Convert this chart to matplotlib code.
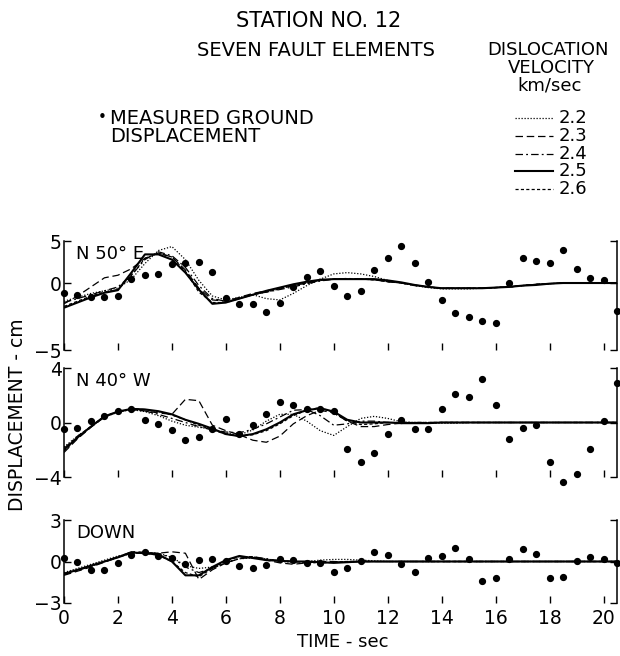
import matplotlib
matplotlib.use("Agg")
import matplotlib.pyplot as plt
from matplotlib.lines import Line2D

plt.rcParams['font.family'] = ['DejaVu Sans']

# ---------------- data ----------------
time_s = [0.0, 0.5, 1.0, 1.5, 2.0, 2.5, 3.0, 3.5, 4.0, 4.5,
          5.0, 5.5, 6.0, 6.5, 7.0, 7.5, 8.0, 8.5, 9.0, 9.5,
          10.0, 10.5, 11.0, 11.5, 12.0, 12.5, 13.0, 13.5, 14.0, 14.5,
          15.0, 15.5, 16.0, 16.5, 17.0, 17.5, 18.0, 18.5, 19.0, 19.5,
          20.0, 20.5]

velocities = ['2.2', '2.3', '2.4', '2.5', '2.6']

# N 50 E component
n50e_measured = [-0.74, -0.92, -1.05, -1.1, -1.0, 0.3, 0.62, 0.7, 1.5, 1.56,
                 1.64, 0.82, -1.15, -1.6, -1.6, -2.25, -1.5, -0.3, 0.44, 0.9,
                 -0.23, -1.0, -0.59, 1.0, 1.9, 2.85, 1.51, 0.05, -1.31, -2.28,
                 -2.64, -2.95, -3.08, 0.0, 1.9, 1.69, 1.56, 2.54, 1.05, 0.36,
                 0.23, -2.13]
n50e_v22 = [-1.4, -1.1, -0.8, -0.6, -0.4, 0.3, 1.5, 2.5, 2.8, 1.8,
            0.2, -1.0, -1.3, -1.1, -0.9, -1.2, -1.3, -0.8, -0.2, 0.3,
            0.7, 0.8, 0.7, 0.5, 0.2, 0.0, -0.2, -0.35, -0.45, -0.45,
            -0.45, -0.4, -0.35, -0.3, -0.2, -0.1, -0.05, 0.0, 0.0, 0.0,
            0.0, 0.0]
n50e_v23 = [-1.6, -1.0, -0.3, 0.4, 0.6, 1.1, 1.9, 2.3, 2.0, 1.0,
            -0.4, -1.3, -1.4, -1.1, -0.8, -0.6, -0.4, -0.2, 0.0, 0.2,
            0.3, 0.3, 0.3, 0.25, 0.1, 0.0, -0.2, -0.3, -0.4, -0.4,
            -0.4, -0.4, -0.35, -0.3, -0.2, -0.1, -0.05, 0.0, 0.0, 0.0,
            0.0, 0.0]
n50e_v24 = [-1.5, -1.2, -0.9, -0.6, -0.3, 0.6, 1.8, 2.4, 2.1, 1.2,
            -0.2, -1.2, -1.4, -1.2, -0.9, -0.7, -0.5, -0.3, -0.05, 0.15,
            0.3, 0.35, 0.3, 0.25, 0.1, 0.0, -0.15, -0.3, -0.4, -0.4,
            -0.4, -0.4, -0.35, -0.3, -0.2, -0.1, -0.05, 0.0, 0.0, 0.0,
            0.0, 0.0]
n50e_v25 = [-1.9, -1.5, -1.1, -0.75, -0.55, 0.8, 2.2, 2.2, 1.8, 0.8,
            -0.5, -1.6, -1.5, -1.2, -0.9, -0.6, -0.35, -0.1, 0.1, 0.25,
            0.3, 0.3, 0.3, 0.3, 0.2, 0.05, -0.15, -0.3, -0.4, -0.4,
            -0.4, -0.4, -0.35, -0.3, -0.2, -0.15, -0.05, 0.0, 0.0, 0.0,
            0.0, 0.0]
n50e_v26 = [-1.8, -1.4, -1.0, -0.7, -0.5, 0.6, 1.9, 2.3, 2.0, 0.9,
            -0.7, -1.5, -1.5, -1.2, -0.9, -0.7, -0.45, -0.2, 0.0, 0.2,
            0.3, 0.3, 0.3, 0.25, 0.1, 0.0, -0.15, -0.3, -0.4, -0.4,
            -0.4, -0.4, -0.35, -0.3, -0.2, -0.1, -0.05, 0.0, 0.0, 0.0,
            0.0, 0.0]

# N 40 W component
n40w_measured = [-0.47, -0.39, 0.1, 0.46, 0.83, 1.0, 0.17, -0.1, -0.56, -1.32,
                 -1.08, -0.5, 0.29, -0.81, -0.22, 0.59, 1.49, 1.32, 0.96, 1.0,
                 0.88, -1.91, -2.89, -2.24, -0.81, 0.15, -0.51, -0.46, 0.96, 2.06,
                 1.86, 3.21, 1.32, -1.18, -0.44, -0.2, -2.92, -4.4, -3.75, -1.91,
                 0.1, 2.92]
n40w_v22 = [-1.8, -1.0, -0.3, 0.4, 0.75, 0.95, 0.8, 0.5, 0.1, -0.2,
            -0.35, -0.5, -0.8, -0.9, -0.55, 0.1, 0.6, 0.6, 0.1, -0.6,
            -0.95, -0.3, 0.3, 0.45, 0.3, 0.05, 0.0, -0.05, -0.05, -0.05,
            0.0, 0.0, 0.0, 0.0, 0.0, 0.0, 0.0, 0.0, 0.0, 0.0,
            0.0, 0.0]
n40w_v23 = [-2.2, -1.2, -0.35, 0.4, 0.8, 0.95, 0.85, 0.7, 0.6, 1.7,
            1.6, -0.2, -0.6, -0.9, -1.3, -1.45, -1.0, -0.1, 0.5, 0.9,
            0.7, 0.1, -0.3, -0.3, -0.15, -0.05, 0.0, 0.0, 0.0, 0.0,
            0.0, 0.0, 0.0, 0.0, 0.0, 0.0, 0.0, 0.0, 0.0, 0.0,
            0.0, 0.0]
n40w_v24 = [-1.9, -1.0, -0.3, 0.45, 0.8, 0.95, 0.85, 0.6, 0.3, 0.0,
            -0.3, -0.55, -0.7, -0.75, -0.5, -0.1, 0.4, 0.9, 0.95, 0.5,
            -0.2, -0.1, 0.1, 0.1, 0.0, 0.0, 0.0, 0.0, 0.0, 0.0,
            0.0, 0.0, 0.0, 0.0, 0.0, 0.0, 0.0, 0.0, 0.0, 0.0,
            0.0, 0.0]
n40w_v25 = [-2.0, -1.1, -0.3, 0.45, 0.8, 1.0, 0.96, 0.83, 0.6, 0.2,
            -0.1, -0.45, -0.85, -1.0, -0.85, -0.5, 0.0, 0.6, 0.9, 1.05,
            0.8, 0.2, 0.0, 0.0, 0.0, -0.05, -0.05, -0.05, 0.0, 0.0,
            0.0, 0.0, 0.0, 0.0, 0.0, 0.0, 0.0, 0.0, 0.0, 0.0,
            0.0, 0.0]
n40w_v26 = [-2.1, -1.15, -0.3, 0.45, 0.8, 1.0, 0.95, 0.8, 0.55, 0.2,
            -0.2, -0.55, -0.85, -1.0, -0.9, -0.6, -0.1, 0.5, 0.9, 1.1,
            0.7, 0.1, -0.15, -0.1, 0.0, 0.0, 0.0, 0.0, 0.0, 0.0,
            0.0, 0.0, 0.0, 0.0, 0.0, 0.0, 0.0, 0.0, 0.0, 0.0,
            0.0, 0.0]

# DOWN component
down_measured = [0.23, 0.0, -0.62, -0.62, -0.13, 0.47, 0.71, 0.4, 0.23, -0.18,
                 0.1, 0.18, 0.06, -0.33, -0.5, -0.25, 0.18, 0.1, -0.1, -0.13,
                 -0.74, -0.5, 0.06, 0.66, 0.47, -0.2, -0.76, 0.28, 0.42, 0.95,
                 0.2, -1.39, -1.17, 0.18, 0.9, 0.54, -1.22, -1.1, 0.06, 0.3,
                 0.18, -0.08]
down_v22 = [-0.8, -0.5, -0.2, 0.1, 0.4, 0.6, 0.65, 0.6, 0.3, -0.3,
            -0.5, -0.4, -0.1, 0.2, 0.25, 0.2, 0.0, -0.05, 0.0, 0.1,
            0.15, 0.15, 0.1, 0.05, 0.0, 0.0, 0.0, 0.0, 0.0, 0.0,
            0.0, 0.0, 0.0, 0.0, 0.0, 0.0, 0.0, 0.0, 0.0, 0.0,
            0.0, 0.0]
down_v23 = [-1.0, -0.7, -0.4, -0.05, 0.3, 0.7, 0.65, 0.6, 0.7, 0.6,
            -1.3, -0.6, -0.1, 0.2, 0.3, 0.1, -0.1, -0.2, -0.1, 0.0,
            0.0, -0.05, 0.0, 0.0, 0.0, 0.0, 0.0, 0.0, 0.0, 0.0,
            0.0, 0.0, 0.0, 0.0, 0.0, 0.0, 0.0, 0.0, 0.0, 0.0,
            0.0, 0.0]
down_v24 = [-0.95, -0.65, -0.35, 0.0, 0.35, 0.7, 0.65, 0.55, 0.3, -0.4,
            -0.8, -0.5, -0.1, 0.25, 0.35, 0.2, 0.05, 0.0, -0.05, -0.1,
            -0.05, 0.0, 0.0, 0.0, 0.0, 0.0, 0.0, 0.0, 0.0, 0.0,
            0.0, 0.0, 0.0, 0.0, 0.0, 0.0, 0.0, 0.0, 0.0, 0.0,
            0.0, 0.0]
down_v25 = [-0.9, -0.6, -0.3, 0.0, 0.3, 0.65, 0.6, 0.5, 0.0, -1.0,
            -1.0, -0.4, 0.1, 0.4, 0.25, 0.1, 0.05, 0.0, 0.0, -0.05,
            -0.1, -0.05, 0.0, 0.0, 0.0, 0.0, 0.0, 0.0, 0.0, 0.0,
            0.0, 0.0, 0.0, 0.0, 0.0, 0.0, 0.0, 0.0, 0.0, 0.0,
            0.0, 0.0]
down_v26 = [-0.85, -0.6, -0.3, 0.0, 0.3, 0.6, 0.6, 0.45, 0.0, -0.8,
            -1.1, -0.5, 0.05, 0.35, 0.35, 0.15, 0.05, 0.0, -0.05, -0.1,
            -0.05, 0.0, 0.0, 0.0, 0.0, 0.0, 0.0, 0.0, 0.0, 0.0,
            0.0, 0.0, 0.0, 0.0, 0.0, 0.0, 0.0, 0.0, 0.0, 0.0,
            0.0, 0.0]

panel_names = ['N 50\u00b0 E', 'N 40\u00b0 W', 'DOWN']
x_ticks = [0, 2, 4, 6, 8, 10, 12, 14, 16, 18, 20]
x_ticklabels = ['0', '2', '4', '6', '8', '10', '12', '14', '16', '18', '20']
y_ticklabels = [['\u22125', '0', '5'], ['\u22124', '0', '4'], ['\u22123', '0', '3']]

# ---------------- styles ----------------
W, H = 620, 656
def fx(px):
    return px / W
def fy(py):
    return 1 - py / H

styles = {
    '2.2': dict(ls=(0, (1, 1.4)), lw=0.9),
    '2.3': dict(ls=(0, (6, 3)), lw=0.9),
    '2.4': dict(ls=(0, (6, 2.5, 1.5, 2.5)), lw=0.9),
    '2.5': dict(ls='-', lw=1.5),
    '2.6': dict(ls=(0, (2.5, 1.8)), lw=0.9),
}

fig = plt.figure(figsize=(6.2, 6.56), dpi=100)

panels = [
    dict(top=241, bot=350, ylim=(-5.15, 3.23),
         meas=n50e_measured, curves=[n50e_v22, n50e_v23, n50e_v24, n50e_v25, n50e_v26]),
    dict(top=368, bot=477, ylim=(-4.0, 4.0),
         meas=n40w_measured, curves=[n40w_v22, n40w_v23, n40w_v24, n40w_v25, n40w_v26]),
    dict(top=520, bot=603, ylim=(-3.0, 3.0),
         meas=down_measured, curves=[down_v22, down_v23, down_v24, down_v25, down_v26]),
]

left_px, right_px = 64, 617
for i, p in enumerate(panels):
    ax = fig.add_axes([fx(left_px), fy(p['bot']), (right_px - left_px) / W,
                       (p['bot'] - p['top']) / H])
    for v, vals in zip(velocities, p['curves']):
        ax.plot(time_s, vals, color='black', solid_capstyle='butt',
                dash_capstyle='butt', **styles[v])
    ax.plot(time_s, p['meas'], 'o', ms=4.2, color='black', clip_on=False, zorder=5)
    ax.set_xlim(0, 20.5)
    ax.set_ylim(*p['ylim'])
    ax.set_yticks([p['ylim'][0], 0, p['ylim'][1]])
    ax.set_yticklabels(y_ticklabels[i])
    ax.set_xticks(x_ticks)
    ax.set_xticklabels(x_ticklabels)
    for s in ['top', 'bottom']:
        ax.spines[s].set_visible(False)
    for s in ['left', 'right']:
        ax.spines[s].set_linewidth(1.1)
    ax.tick_params(axis='x', direction='in', length=5, width=1.0,
                   bottom=True, top=False, labelbottom=(i == 2),
                   labelsize=13.5, pad=4)
    ax.tick_params(axis='y', direction='in', length=5, width=1.0,
                   left=True, right=True, labelsize=13.5, pad=1.5)
    ax.patch.set_alpha(0)
    fig.text(fx(76), fy(p['top'] + 13), panel_names[i], ha='left', va='center',
             fontsize=13)

# ---------------- texts ----------------
fig.text(fx(319), fy(21), 'STATION NO. 12', ha='center', va='center', fontsize=15)
fig.text(fx(316), fy(50), 'SEVEN FAULT ELEMENTS', ha='center', va='center', fontsize=14)
fig.text(fx(548), fy(50), 'DISLOCATION', ha='center', va='center', fontsize=13)
fig.text(fx(551), fy(68), 'VELOCITY', ha='center', va='center', fontsize=13)
fig.text(fx(550), fy(86), 'km/sec', ha='center', va='center', fontsize=13)

fig.text(fx(102), fy(118), '\u2022', ha='center', va='center', fontsize=11)
fig.text(fx(110), fy(118), 'MEASURED GROUND', ha='left', va='center', fontsize=14)
fig.text(fx(110), fy(137), 'DISPLACEMENT', ha='left', va='center', fontsize=14)

legend_y = [118, 136, 154, 171, 189]
for v, yc in zip(velocities, legend_y):
    fig.add_artist(Line2D([fx(515), fx(553)], [fy(yc), fy(yc)], color='black',
                          transform=fig.transFigure, **styles[v]))
    fig.text(fx(559), fy(yc), v, ha='left', va='center', fontsize=13)

fig.text(fx(18), fy(415), 'DISPLACEMENT - cm', rotation=90, ha='center', va='center',
         fontsize=13.5)
fig.text(fx(343), fy(642), 'TIME - sec', ha='center', va='center', fontsize=13)

fig.savefig('out.png', dpi=100)
